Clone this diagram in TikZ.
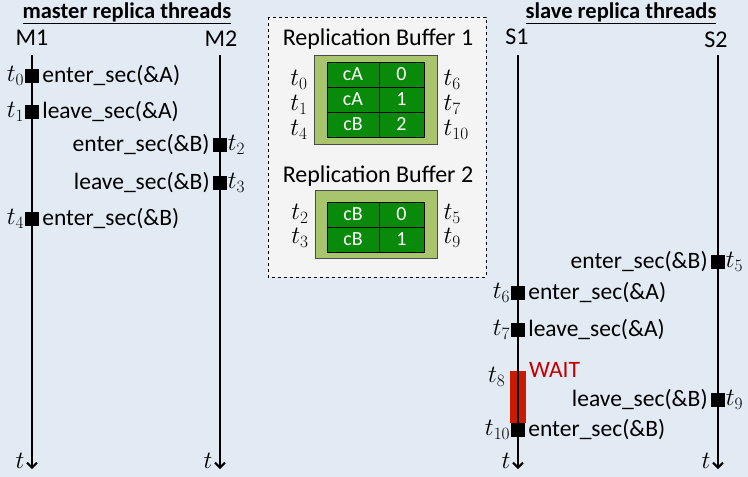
\documentclass[tikz,border=0pt]{standalone}
\usepackage{fontspec}
\setmainfont{Carlito}
\usetikzlibrary{positioning,arrows.meta}

\definecolor{bgblue}{HTML}{E2EAF4}
\definecolor{bufgray}{HTML}{F4F4F4}
\definecolor{bufolive}{HTML}{A8C46C}
\definecolor{cellgreen}{HTML}{0A8A0A}
\definecolor{waitred}{HTML}{CC1A00}
\definecolor{waittext}{HTML}{C00000}

\tikzset{
  title/.style={font=\fontsize{22.5}{24}\selectfont\bfseries, inner sep=0pt},
  thname/.style={font=\fontsize{24}{26}\selectfont, inner sep=0pt},
  lbl/.style={font=\fontsize{23.5}{26}\selectfont, inner sep=1pt},
  tl/.style={font=\fontsize{27}{28}\selectfont, inner sep=0.5pt},
  evt/.style={fill=black, minimum size=14pt, inner sep=0pt},
  thread/.style={line width=2.2pt, -{Straight Barb[length=5pt,width=10pt,line width=2pt]}},
  cell/.style={draw=black, line width=1pt, fill=cellgreen, text=white, inner sep=0pt,
    minimum height=25pt, font=\fontsize{20}{22}\selectfont},
  holder/.style={draw=black!70, line width=0.8pt, fill=bufolive}
}

\begin{document}
\begin{tikzpicture}[x=1pt,y=-1pt]
  \useasboundingbox[fill=bgblue] (0,0) rectangle (748,477);

  % Titles
  \node[title] (mtitle) at (127,13) {\underline{master replica threads}};
  \node[title] (stitle) at (621,13) {\underline{slave replica threads}};

  % Thread names
  \node[thname] (M1) at (32,38) {M1};
  \node[thname] (M2) at (221,39) {M2};
  \node[thname] (S1) at (517,37) {S1};
  \node[thname] (S2) at (716,40) {S2};

  % Thread ends and time labels
  \foreach \th/\x/\tx in {M1/32/20, M2/220/208, S1/518/506, S2/718/706} {
    \coordinate (\th top) at (\x,55);
    \coordinate (\th end) at (\x,469);
    \node[tl] (\th t) at (\tx,461) {$t$};
  }

  % Buffer panel
  \draw[dashed, line width=0.7pt, fill=bufgray] (268,17) rectangle (486,277);
  \node[thname] (buf1) at (378,39) {Replication Buffer 1};
  \node[thname] (buf2) at (378,176) {Replication Buffer 2};
  \draw[holder] (314,55) rectangle (437,144);
  \draw[holder] (315,190) rectangle (437,258);

  % Buffer 1 entries
  \foreach \c/\v/\l/\r [count=\i] in {cA/0/0/6, cA/1/1/7, cB/2/4/10} {
    \node[cell, minimum width=52pt] (ba\i) at (353,{49.5+25*\i}) {\c};
    \node[cell, minimum width=45pt, right=-1pt of ba\i] (bb\i) {\v};
    \node[tl] (bl\i) at (299,{55+25*\i}) {$t_{\l}$};
    \node[tl, anchor=west] (br\i) at (443,{55+25*\i}) {$t_{\r}$};
  }

  % Buffer 2 entries
  \foreach \c/\v/\l/\r [count=\i] in {cB/0/2/5, cB/1/3/9} {
    \node[cell, minimum width=52pt] (bc\i) at (353,{189.5+25*\i}) {\c};
    \node[cell, minimum width=45pt, right=-1pt of bc\i] (bd\i) {\v};
    \node[tl] (bm\i) at (300,{190+24*\i}) {$t_{\l}$};
    \node[tl, anchor=west] (bn\i) at (443,{190+24*\i}) {$t_{\r}$};
  }

  % Wait bar on S1
  \node[fill=waitred, minimum width=16pt, minimum height=52pt, inner sep=0pt] (wait) at (518,397) {};

  % Thread lines
  \foreach \th in {M1, M2, S1, S2}
    \draw[thread] (\th top) -- (\th end);

  \node[tl, anchor=east] (t8) at (506,377) {$t_8$};
  \node[lbl, text=waittext, anchor=west] (waitlbl) at (528,370) {WAIT};

  % Events with the call on the right
  \foreach \n/\x/\y/\txt in {0/32/76/enter\_sec(\&A), 1/32/112/leave\_sec(\&A), 4/32/219/enter\_sec(\&B),
      6/518/293/enter\_sec(\&A), 7/518/330/leave\_sec(\&A), 10/518/430/enter\_sec(\&B)} {
    \node[evt] (t\n) at (\x,\y) {};
    \node[lbl, right=2pt of t\n] (c\n) {\txt};
    \node[tl, left=0pt of t\n] (l\n) {$t_{\n}$};
  }

  % Events with the call on the left
  \foreach \n/\x/\y/\txt in {2/220/145/enter\_sec(\&B), 3/220/183/leave\_sec(\&B),
      5/718/262/enter\_sec(\&B), 9/718/400/leave\_sec(\&B)} {
    \node[evt] (t\n) at (\x,\y) {};
    \node[lbl, left=2pt of t\n] (c\n) {\txt};
    \node[tl, right=0pt of t\n] (l\n) {$t_{\n}$};
  }
\end{tikzpicture}
\end{document}
